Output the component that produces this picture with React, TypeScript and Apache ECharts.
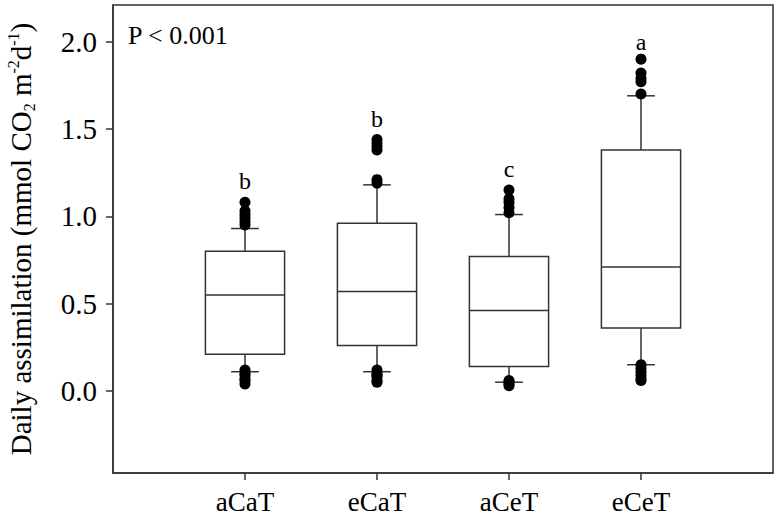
import React, { useEffect, useRef } from "react";
import * as echarts from "echarts";

const categories = ["aCaT", "eCaT", "aCeT", "eCeT"];
const lowerWhisker = [0.11, 0.11, 0.05, 0.15];
const quartile1 = [0.21, 0.26, 0.14, 0.36];
const medians = [0.55, 0.57, 0.46, 0.71];
const quartile3 = [0.8, 0.96, 0.77, 1.38];
const upperWhisker = [0.93, 1.18, 1.01, 1.69];

const outliersACaT = [1.08, 1.03, 1.01, 0.99, 0.97, 0.95, 0.12, 0.1, 0.09, 0.07, 0.06, 0.04];
const outliersECaT = [1.44, 1.42, 1.4, 1.38, 1.21, 1.19, 0.12, 0.1, 0.09, 0.08, 0.06, 0.05];
const outliersACeT = [1.15, 1.1, 1.08, 1.05, 1.02, 0.06, 0.05, 0.04, 0.03];
const outliersECeT = [1.9, 1.82, 1.79, 1.77, 1.7, 0.15, 0.13, 0.11, 0.09, 0.07, 0.06];
const outlierGroups = [outliersACaT, outliersECaT, outliersACeT, outliersECeT];

const letters = ["b", "b", "c", "a"];
const letterValues = [1.2, 1.56, 1.27, 2.0];

const yTicks = [0, 0.5, 1, 1.5, 2];
const xTicks = [1, 2, 3, 4];
const pText = "P < 0.001";

const SERIF = "'Liberation Serif', 'Times New Roman', serif";
const LINE = "#333333";

export default function App() {
  const ref = useRef<HTMLDivElement>(null);

  useEffect(() => {
    if (!ref.current) return;
    const chart = echarts.init(ref.current, null, { renderer: "svg" });

    const boxData = categories.map((_, i) => [
      i + 1,
      lowerWhisker[i],
      quartile1[i],
      medians[i],
      quartile3[i],
      upperWhisker[i],
    ]);
    const outlierData: number[][] = [];
    outlierGroups.forEach((g, i) => g.forEach((v) => outlierData.push([i + 1, v])));
    const letterData = letters.map((l, i) => [i + 1, letterValues[i], l]);

    const option: any = {
      animation: false,
      backgroundColor: "#fff",
      grid: {
        left: 113,
        top: 5,
        right: 4,
        bottom: 51,
        containLabel: false,
        outerBoundsMode: "none",
        show: true,
        borderColor: LINE,
        borderWidth: 1.5,
        backgroundColor: "transparent",
      },
      xAxis: {
        type: "value",
        min: 0,
        max: 5,
        axisLine: { show: true, onZero: false, lineStyle: { color: LINE, width: 1.5 } },
        axisTick: {
          show: true,
          customValues: xTicks,
          length: 7,
          lineStyle: { color: LINE, width: 1.5 },
        },
        axisLabel: {
          customValues: xTicks,
          formatter: (v: number) => categories[Math.round(v) - 1] ?? "",
          fontFamily: SERIF,
          fontSize: 27,
          color: "#000",
          margin: 15,
        },
        splitLine: { show: false },
      },
      yAxis: {
        type: "value",
        min: -0.47,
        max: 2.21,
        axisLine: { show: true, onZero: false, lineStyle: { color: LINE, width: 1.5 } },
        axisTick: {
          show: true,
          customValues: yTicks,
          length: 7,
          lineStyle: { color: LINE, width: 1.5 },
        },
        axisLabel: {
          customValues: yTicks,
          formatter: (v: number) => v.toFixed(1),
          fontFamily: SERIF,
          fontSize: 29,
          color: "#000",
          margin: 16,
        },
        splitLine: { show: false },
        name:
          "{n|Daily assimilation (mmol CO}{sub|2}{n| m}{sup|-2}{n|d}{sup|-1}{n|)}",
        nameLocation: "middle",
        nameGap: 76,
        nameTextStyle: {
          rich: {
            n: { fontFamily: SERIF, fontSize: 29, color: "#000", lineHeight: 32 },
            sub: {
              fontFamily: SERIF,
              fontSize: 16,
              color: "#000",
              verticalAlign: "bottom",
              lineHeight: 16,
            },
            sup: {
              fontFamily: SERIF,
              fontSize: 16,
              color: "#000",
              verticalAlign: "top",
              lineHeight: 14,
            },
          },
        },
      },
      graphic: [
        {
          type: "text",
          x: 128,
          y: 35,
          style: {
            text: pText,
            fontFamily: SERIF,
            fontSize: 26,
            fill: "#000",
            textVerticalAlign: "middle",
          },
        },
      ],
      series: [
        {
          type: "custom",
          data: boxData,
          encode: { x: 0, y: [1, 2, 3, 4, 5] },
          renderItem: (params: any, api: any) => {
            const x = api.value(0);
            const unit = api.size([1, 0])[0];
            const half = unit * 0.3;
            const capHalf = unit * 0.105;
            const [cx, yLo] = api.coord([x, api.value(1)]);
            const yQ1 = api.coord([x, api.value(2)])[1];
            const yMed = api.coord([x, api.value(3)])[1];
            const yQ3 = api.coord([x, api.value(4)])[1];
            const yHi = api.coord([x, api.value(5)])[1];
            const ls = { stroke: LINE, lineWidth: 1.5 };
            return {
              type: "group",
              children: [
                { type: "line", shape: { x1: cx, y1: yQ3, x2: cx, y2: yHi }, style: ls },
                { type: "line", shape: { x1: cx, y1: yQ1, x2: cx, y2: yLo }, style: ls },
                { type: "line", shape: { x1: cx - capHalf, y1: yHi, x2: cx + capHalf, y2: yHi }, style: ls },
                { type: "line", shape: { x1: cx - capHalf, y1: yLo, x2: cx + capHalf, y2: yLo }, style: ls },
                {
                  type: "rect",
                  shape: { x: cx - half, y: yQ3, width: half * 2, height: yQ1 - yQ3 },
                  style: { fill: "#fff", stroke: LINE, lineWidth: 1.5 },
                },
                { type: "line", shape: { x1: cx - half, y1: yMed, x2: cx + half, y2: yMed }, style: ls },
              ],
            };
          },
          z: 2,
        },
        {
          type: "scatter",
          data: outlierData,
          symbol: "circle",
          symbolSize: 11,
          itemStyle: { color: "#000", opacity: 1 },
          z: 3,
        },
        {
          type: "custom",
          data: letterData,
          encode: { x: 0, y: 1 },
          renderItem: (params: any, api: any) => {
            const [px, py] = api.coord([api.value(0), api.value(1)]);
            return {
              type: "text",
              x: px,
              y: py,
              style: {
                text: letters[params.dataIndex],
                fontFamily: SERIF,
                fontSize: 24,
                fill: "#000",
                textAlign: "center",
                textVerticalAlign: "middle",
              },
            };
          },
          z: 4,
        },
      ],
    };

    chart.setOption(option);
    return () => chart.dispose();
  }, []);

  return (
    <div
      ref={ref}
      style={{ position: "fixed", left: 0, top: 0, width: 777, height: 524, background: "#fff" }}
    />
  );
}
